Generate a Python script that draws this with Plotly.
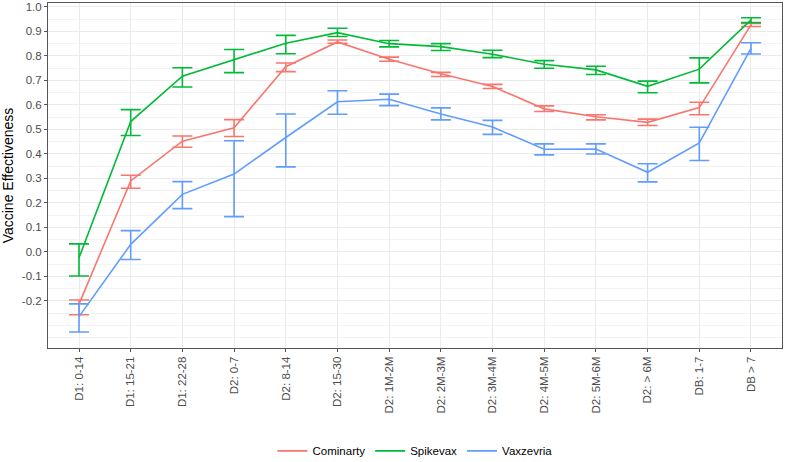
import plotly.graph_objects as go

categories = ['D1: 0-14', 'D1: 15-21', 'D1: 22-28', 'D2: 0-7', 'D2: 8-14', 'D2: 15-30',
              'D2: 1M-2M', 'D2: 2M-3M', 'D2: 3M-4M', 'D2: 4M-5M', 'D2: 5M-6M', 'D2: > 6M',
              'DB: 1-7', 'DB > 7']

# Cominarty
cominarty = [-0.213, 0.290, 0.452, 0.507, 0.756, 0.857, 0.786, 0.727, 0.675, 0.584, 0.552, 0.529, 0.589, 0.927]
cominarty_hi = [-0.196, 0.313, 0.473, 0.540, 0.771, 0.865, 0.795, 0.733, 0.684, 0.596, 0.560, 0.542, 0.611, 0.933]
cominarty_lo = [-0.256, 0.260, 0.427, 0.471, 0.736, 0.852, 0.778, 0.716, 0.667, 0.573, 0.539, 0.516, 0.560, 0.920]

# Spikevax
spikevax = [-0.024, 0.532, 0.717, 0.784, 0.852, 0.895, 0.850, 0.838, 0.807, 0.766, 0.743, 0.676, 0.746, 0.947]
spikevax_hi = [0.033, 0.581, 0.752, 0.826, 0.884, 0.913, 0.863, 0.850, 0.823, 0.781, 0.758, 0.697, 0.792, 0.956]
spikevax_lo = [-0.098, 0.475, 0.673, 0.732, 0.809, 0.879, 0.837, 0.822, 0.793, 0.750, 0.724, 0.650, 0.690, 0.936]

# Vaxzevria
vaxzevria = [-0.264, 0.031, 0.235, 0.318, 0.467, 0.613, 0.623, 0.563, 0.510, 0.419, 0.420, 0.325, 0.445, 0.831]
vaxzevria_hi = [-0.212, 0.087, 0.287, 0.454, 0.563, 0.658, 0.644, 0.588, 0.537, 0.441, 0.441, 0.360, 0.509, 0.854]
vaxzevria_lo = [-0.327, -0.031, 0.177, 0.144, 0.347, 0.562, 0.597, 0.539, 0.480, 0.396, 0.400, 0.286, 0.373, 0.808]

y_ticks = [1.0, 0.9, 0.8, 0.7, 0.6, 0.5, 0.4, 0.3, 0.2, 0.1, 0.0, -0.1, -0.2]

series = [
    ('Cominarty', cominarty, cominarty_hi, cominarty_lo, '#F8766D'),
    ('Spikevax', spikevax, spikevax_hi, spikevax_lo, '#00BA38'),
    ('Vaxzevria', vaxzevria, vaxzevria_hi, vaxzevria_lo, '#619CFF'),
]

fig = go.Figure()
for name, ve, hi, lo, col in series:
    fig.add_trace(go.Scatter(
        x=list(range(len(categories))),
        y=ve,
        name=name,
        mode='lines',
        line=dict(color=col, width=1.6),
        error_y=dict(
            type='data',
            symmetric=False,
            array=[h - v for h, v in zip(hi, ve)],
            arrayminus=[v - l for v, l in zip(ve, lo)],
            color=col,
            thickness=1.6,
            width=10,
        ),
    ))

fig.update_xaxes(
    range=[-0.6, 13.6],
    tickvals=list(range(len(categories))),
    ticktext=categories,
    tickangle=-90,
    tickfont=dict(size=11.5, color='#4D4D4D'),
    showgrid=True, gridcolor='#EBEBEB', gridwidth=1,
    showline=True, linecolor='#555555', linewidth=1, mirror=True,
    ticks='outside', ticklen=3, tickcolor='#555555',
    zeroline=False, automargin=False,
)
fig.update_yaxes(
    range=[-0.392, 1.016],
    tickvals=y_ticks,
    ticktext=['%.1f' % v for v in y_ticks],
    tickfont=dict(size=11.5, color='#4D4D4D'),
    title=dict(text='Vaccine Effectiveness', font=dict(size=14, color='black'), standoff=6),
    showgrid=True, gridcolor='#EBEBEB', gridwidth=1,
    minor=dict(dtick=0.05, tick0=0, showgrid=True, gridcolor='#F3F3F3', gridwidth=0.6),
    showline=True, linecolor='#555555', linewidth=1, mirror=True,
    ticks='outside', ticklen=3, tickcolor='#555555',
    zeroline=False, automargin=False,
)
fig.update_layout(
    width=790, height=462,
    margin=dict(l=48, r=8, t=3, b=114),
    plot_bgcolor='white', paper_bgcolor='white',
    font=dict(family='Liberation Sans, Arial, sans-serif'),
    legend=dict(orientation='h', x=0.5, xanchor='center', yref='container', y=0.024,
                yanchor='middle', font=dict(size=11.5, color='black'), itemwidth=30),
)

fig.write_html("out.html", config={'displayModeBar': False},
               post_script="document.body.style.margin='0';")
